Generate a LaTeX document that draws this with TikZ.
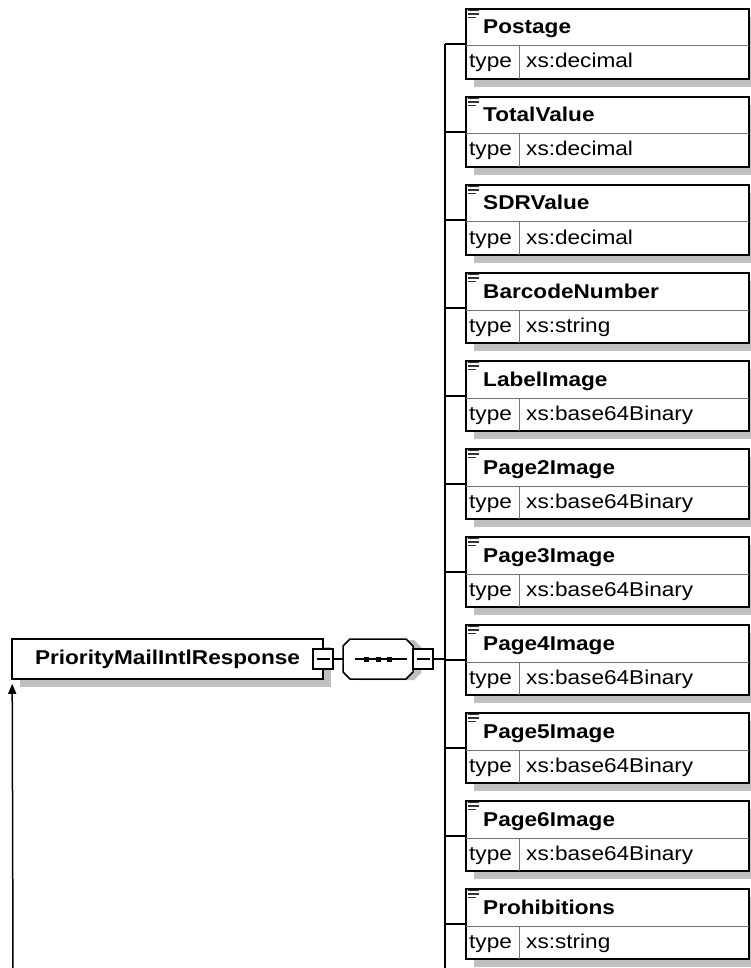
\documentclass[tikz,border=0pt]{standalone}
\usepackage{fontspec}
\setmainfont{Liberation Sans}
\usepackage{graphicx}
\usetikzlibrary{shadows,arrows.meta,calc}
\newcommand{\wtxt}[1]{\scalebox{1.13}[1]{#1}}
\begin{document}
\begin{tikzpicture}[x=1pt,y=-1pt,
  shadowed/.style={drop shadow={shadow xshift=8pt,shadow yshift=-8pt,opacity=1,fill=black!25}},
  ebox/.style={draw, line width=1.6pt, fill=white, minimum width=283pt, minimum height=70pt, inner sep=0pt, anchor=north west, shadowed},
  rootbox/.style={draw, line width=1.6pt, fill=white, minimum width=311pt, minimum height=40pt, inner sep=0pt, shadowed, font=\fontsize{20}{24}\selectfont\bfseries},
  minusbox/.style={draw, line width=1.4pt, fill=white, minimum size=20pt, inner sep=0pt,
    path picture={\draw[line width=1.2pt] ([xshift=3.5pt]path picture bounding box.west) -- ([xshift=-3.5pt]path picture bounding box.east);}},
  conn/.style={line width=1.5pt},
  divider/.style={line width=1pt, draw=black!55},
  nametxt/.style={anchor=base west, inner sep=0pt, font=\fontsize{20}{24}\selectfont\bfseries},
  typetxt/.style={anchor=base west, inner sep=0pt, font=\fontsize{20}{24}\selectfont},
  icon/.style={line width=1.6pt, draw=black!80}
]
\useasboundingbox (0,0) rectangle (750,968);

% root element
\node[rootbox] (root) at (167.5,659) {\wtxt{PriorityMailIntlResponse}};
\node[minusbox] (mb1) at (323,659) {};

% sequence compositor
\node[minimum width=70pt, minimum height=40pt, inner sep=0pt] (seq) at (378,659) {};
\begin{scope}[shift={(seq.center)}]
  \fill[black!25] (-27,-12)--(-20,-19)--(36,-19)--(43,-12)--(43,14)--(36,21)--(-20,21)--(-27,14)--cycle;
  \filldraw[fill=white, line width=1.5pt] (-35,-13)--(-28,-20)--(28,-20)--(35,-13)--(35,13)--(28,20)--(-28,20)--(-35,13)--cycle;
  \draw[line width=1.2pt] (-23,0) -- (29,0);
  \fill (-14,-2.5) rectangle (-9,2.5);
  \fill (-2.5,-2.5) rectangle (2.5,2.5);
  \fill (9,-2.5) rectangle (14,2.5);
\end{scope}
\node[minusbox] (mb2) at (423,659) {};
\coordinate (tr) at (445,659);
\coordinate (tbot) at (445,968);

% recursion arrow
\coordinate (lbot) at (13,968);
\draw[conn, -{Triangle[length=10pt,width=8pt]}] (lbot) -- ([xshift=1pt,yshift=-4pt]root.south west);

% connectors root -> seq -> trunk
\draw[conn] (mb1.east) -- (seq.west);
\draw[conn] (seq.east) -- (mb2.west);
\draw[conn] (mb2.east) -- (tr);

% child elements
\foreach \n/\t [count=\i from 0] in {Postage/xs:decimal, TotalValue/xs:decimal, SDRValue/xs:decimal, BarcodeNumber/xs:string, LabelImage/xs:base64Binary, Page2Image/xs:base64Binary, Page3Image/xs:base64Binary, Page4Image/xs:base64Binary, Page5Image/xs:base64Binary, Page6Image/xs:base64Binary, Prohibitions/xs:string}{
  \pgfmathsetmacro{\top}{8+88*\i}
  \node[ebox] (e\i) at (465,\top) {};
  \draw[divider] ($(e\i.north west)+(1,38)$) -- ($(e\i.north east)+(-1,38)$);
  \draw[divider] ($(e\i.north west)+(54,38)$) -- ($(e\i.south west)+(54,-1)$);
  \draw[icon] ($(e\i.north west)+(3,2.5)$) -- ++(11,0);
  \draw[icon] ($(e\i.north west)+(3,6)$) -- ++(11,0);
  \draw[icon] ($(e\i.north west)+(3,9.5)$) -- ++(8,0);
  \node[nametxt] (n\i) at ($(e\i.north west)+(18,26)$) {\wtxt{\n}};
  \node[typetxt] (k\i) at ($(e\i.north west)+(4,60)$) {\wtxt{type}};
  \node[typetxt] (v\i) at ($(e\i.north west)+(61,60)$) {\wtxt{\t}};
  \draw[conn] (tr |- e\i.west) -- (e\i.west);
}
\draw[conn] (tr |- e0.west) -- (tbot);
\end{tikzpicture}
\end{document}
